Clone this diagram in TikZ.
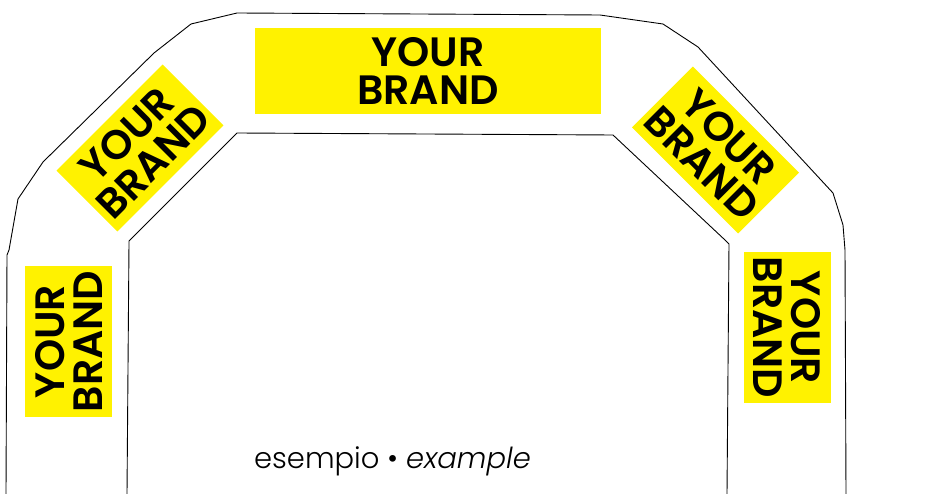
\documentclass[tikz,border=0pt]{standalone}
\usepackage{fontspec}
\setmainfont{Poppins}[BoldFont=* SemiBold]
\newfontfamily\captionfont{Poppins}[UprightFont=* Light, ItalicFont=* Light Italic]
\usepackage{tikz}

\begin{document}
\begin{tikzpicture}
		[x=1pt,y=-1pt,line cap=round,line join=round,
		%Styles
		track line/.style={line width=0.9pt},
		brand box/.style={fill=brandyellow,minimum width=150pt,minimum height=86pt,
			inner sep=0pt,align=center,text=black,
			font=\bfseries\fontsize{41}{38}\selectfont},
		caption text/.style={font=\captionfont\fontsize{29}{33}\selectfont,anchor=base}
		]
		
		%Colors
		\definecolor{brandyellow}{RGB}{255,242,0}	%brand boxes
		
		\useasboundingbox (0,0) rectangle (927,494);
		
		%The graphic
		\draw[track line] (6,494) -- (7,255) -- (9,250) -- (18,199) -- (43,162) -- (154,53)
			-- (191,24) -- (237,13) -- (600,15) -- (663,24) -- (698,47) -- (833,193)
			-- (843,225) -- (845,250) -- (846,494);
		\draw[track line] (127,494) -- (129,243) -- (129,241) -- (237,133) -- (613,135)
			-- (725,240) -- (729,244) -- (727,494);
		
		\node[brand box,minimum width=346pt] (top) at (428,71) {YOUR\\BRAND};
		\node[brand box,rotate=45] (topleft) at (140,148) {YOUR\\BRAND};
		\node[brand box,rotate=-45] (topright) at (715.5,150) {YOUR\\BRAND};
		\node[brand box,rotate=90,minimum width=151pt,minimum height=87pt] (left) at (68.5,341.5) {YOUR\\BRAND};
		\node[brand box,rotate=-90,minimum width=151pt,minimum height=87pt] (right) at (787.5,327.5) {YOUR\\BRAND};
		
		\node[caption text] (caption) at (392.5,468) {esempio • \textit{example}};
	\end{tikzpicture}
\end{document}
